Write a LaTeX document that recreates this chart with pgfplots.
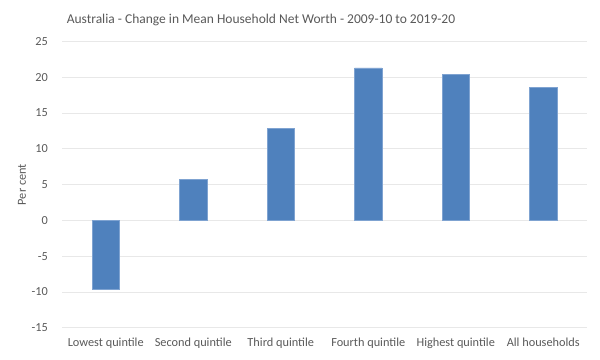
\documentclass[border=0pt]{standalone}
\usepackage{fontspec}
\setmainfont{Carlito}
\usepackage{pgfplots}
\pgfplotsset{compat=1.18}
\definecolor{barblue}{HTML}{4F81BD}
\definecolor{baredge}{HTML}{7FA3D1}
\definecolor{txt}{HTML}{595959}
\definecolor{gridc}{HTML}{E8E8E8}
\begin{document}
\begin{tikzpicture}
\begin{axis}[
  at={(0,0)}, anchor=south west,
  scale only axis,
  width=525bp, height=286.3bp,
  xmin=-0.5, xmax=5.5,
  ymin=-15, ymax=25,
  ytick={-15,-10,...,25},
  xtick={0,1,2,3,4,5},
  xticklabels={Lowest quintile,Second quintile,Third quintile,Fourth quintile,Highest quintile,All households},
  axis line style={draw=none},
  major tick length=0pt,
  ymajorgrids,
  grid style={gridc, line width=1pt},
  /pgf/number format/assume math mode=true,
  yticklabel style={font=\fontsize{12.3bp}{14bp}\selectfont, text=txt, anchor=east, inner sep=0pt, xshift=-14bp},
  xticklabel style={font=\fontsize{12.3bp}{14bp}\selectfont, text=txt, anchor=base, inner sep=0pt, yshift=-18.9bp},
  clip=false,
]
\addplot[ybar, bar width=27.3bp, fill=barblue, draw=baredge, line width=0.6pt, mark=none]
  coordinates {(0,-9.6) (1,5.7) (2,12.9) (3,21.3) (4,20.4) (5,18.6)};
\end{axis}
\node[font=\fontsize{12.3bp}{14bp}\selectfont, text=txt, rotate=90] at (-40bp,143.15bp) {Per cent};
\node[font=\fontsize{13.5bp}{16bp}\selectfont, text=txt, anchor=base, inner sep=0pt] at (199bp,303.8bp) {Australia - Change in Mean Household Net Worth - 2009-10 to 2019-20};
\pgfresetboundingbox
\path (-62bp,-32.2bp) rectangle (538bp,327.8bp);
\end{tikzpicture}
\end{document}
